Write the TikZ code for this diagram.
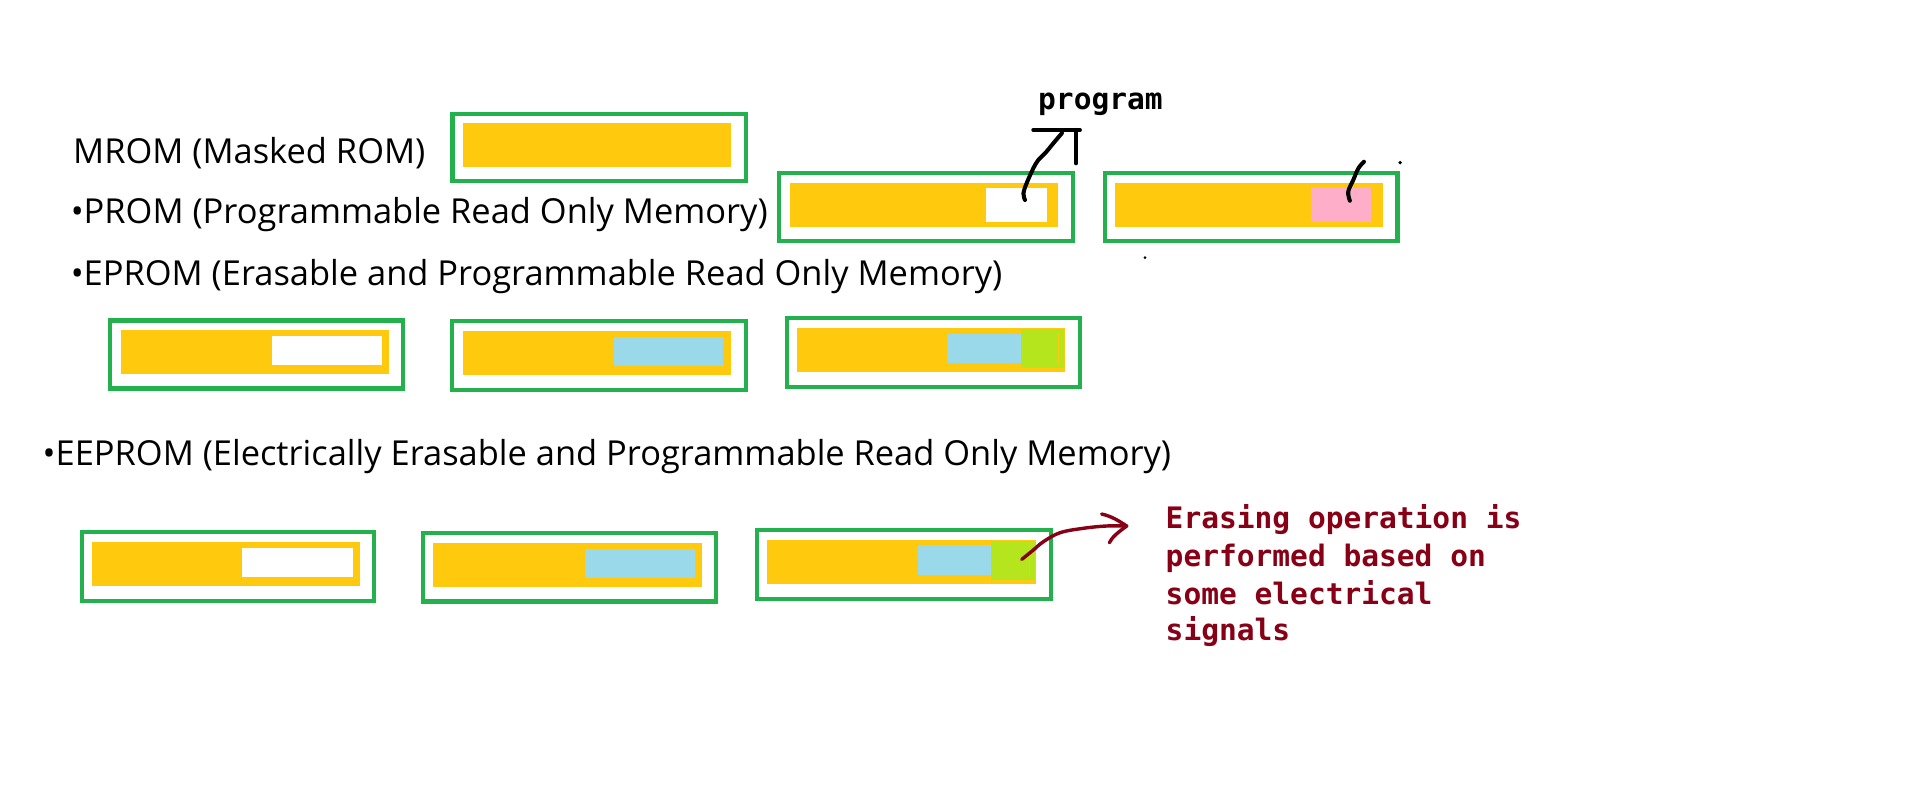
\documentclass[tikz,border=0pt]{standalone}
\usepackage{fontspec}
\setmainfont{Open Sans}
\newfontfamily\codefont{DejaVu Sans Mono}
\definecolor{pyellow}{HTML}{FFC90E}
\definecolor{pgreen}{HTML}{22B14C}
\definecolor{pblue}{HTML}{99D9EA}
\definecolor{ppink}{HTML}{FFAEC9}
\definecolor{plime}{HTML}{B5E61D}
\definecolor{pdred}{HTML}{880015}
\tikzset{
  gbox/.style={draw=pgreen, line width=1.7pt, fill=white, inner sep=0pt, outer sep=0pt},
  cellbox/.style={inner sep=0pt, outer sep=0pt, draw=none},
  label/.style={inner sep=0pt, outer sep=0pt, anchor=base west, font=\fontsize{14.1}{17}\selectfont},
  codelbl/.style={inner sep=0pt, outer sep=0pt, anchor=base west, font=\codefont\bfseries\fontsize{12.1}{15}\selectfont},
  hand/.style={line width=1.65pt, line cap=round, line join=round},
  redhand/.style={line width=1.4pt, line cap=round, line join=round, draw=pdred},
  seam/.style={draw=pyellow, line width=0.4pt},
}
% outer green frame: name, x1, y1, x2, y2 (outer edges)
\newcommand\chipframe[5]{\node[gbox, minimum width={(#4-#2-3.4)*0.5pt}, minimum height={(#5-#3-3.4)*0.5pt}] (#1) at ({(#2+#4)/2},{(#3+#5)/2}) {};}
% filled cell: name, x1, y1, x2, y2, colour
\newcommand\chipcell[6]{\node[cellbox, fill=#6, minimum width={(#4-#2)*0.5pt}, minimum height={(#5-#3)*0.5pt}] (#1) at ({(#2+#4)/2},{(#3+#5)/2}) {};}
\begin{document}
\begin{tikzpicture}[x=0.5pt,y=-0.5pt]
\useasboundingbox (0,0) rectangle (1568,660);
\fill[white] (0,0) rectangle (1568,660);

% texts
\node[label] (tmrom) at (60,134) {MROM (Masked ROM)};
\node[label] (tprom) at (58,183) {•PROM (Programmable Read Only Memory)};
\node[label] (teprom) at (58,233.5) {•EPROM (Erasable and Programmable Read Only Memory)};
\node[label] (teeprom) at (35,381) {•EEPROM (Electrically Erasable and Programmable Read Only Memory)};
\node[codelbl] (tprog) at (850.5,90) {program};
\node[codelbl, text=pdred] (r1) at (955,433) {Erasing operation is};
\node[codelbl, text=pdred] (r2) at (955,464) {performed based on};
\node[codelbl, text=pdred] (r3) at (955,495) {some electrical};
\node[codelbl, text=pdred] (r4) at (955,525) {signals};

% MROM
\chipframe{m}{369}{91.5}{612.5}{150}
\chipcell{my}{379.5}{100.5}{598.7}{136.5}{pyellow}

% PROM
\chipframe{p1}{636.5}{140}{880.6}{199}
\chipcell{p1y}{646.8}{149.6}{866.7}{185.7}{pyellow}
\chipcell{p1w}{807.7}{153.7}{857.7}{181.6}{white}
\chipframe{p2}{903.6}{140}{1146.6}{199.3}
\chipcell{p2y}{913.2}{149.6}{1132.9}{185.7}{pyellow}
\chipcell{p2p}{1074.2}{153.7}{1123.5}{181.6}{ppink}

% EPROM
\chipframe{e1}{88.5}{260.8}{332}{320}
\chipcell{e1y}{99.1}{270.3}{318.7}{306.4}{pyellow}
\chipcell{e1w}{222.8}{275.3}{313}{299}{white}
\chipframe{e2}{368.8}{261.6}{612.9}{321.1}
\chipcell{e2y}{379.5}{271.2}{599.1}{307.2}{pyellow}
\chipcell{e2b}{503.2}{276}{592.7}{299.8}{pblue}
\chipframe{e3}{642.7}{258.9}{886.4}{318.7}
\chipcell{e3y}{652.9}{268.7}{872.5}{304.7}{pyellow}
\chipcell{e3b}{776}{273.4}{836.2}{297.4}{pblue}
\chipcell{e3g}{836.2}{269.3}{871.4}{301.2}{plime}
\draw[seam] (867.1,272.8) -- (867.1,297.4);

% EEPROM
\chipframe{ee1}{65.3}{434.2}{307.9}{493.7}
\chipcell{ee1y}{75.4}{444}{294.7}{479.8}{pyellow}
\chipcell{ee1w}{198.2}{448.7}{289.1}{472.4}{white}
\chipframe{ee2}{344.9}{435}{588}{494.5}
\chipcell{ee2y}{354.9}{444.8}{574.9}{480.6}{pyellow}
\chipcell{ee2b}{479}{449.5}{569.3}{473.2}{pblue}
\chipframe{ee3}{618.2}{432.8}{862.5}{492.3}
\chipcell{ee3y}{628.2}{442.1}{848.7}{478.2}{pyellow}
\chipcell{ee3b}{752.3}{446.7}{811.8}{471}{pblue}
\chipcell{ee3g}{811.8}{442.9}{847.5}{475.2}{plime}
\draw[seam] (843.2,444.8) -- (843.2,471);

% hand-drawn "program" arrow
\coordinate (pstart) at ([xshift=3.5pt,yshift=1.93pt]p1w.center);
\coordinate (progtip) at (870,109);
\coordinate (barL) at (846.5,106.5);
\coordinate (barR) at (884.7,106.5);
\coordinate (stemT) at (881.5,106.5);
\coordinate (stemB) at (881.5,133.8);
\draw[hand] plot[smooth, tension=0.6] coordinates {(pstart) (838.4,158.4) (841,150.2) (846.5,137.9) (850.6,131.1) (856.1,125.6) (862.9,117.4) (progtip)};
\draw[hand] (barL) -- (barR);
\draw[hand] (stemT) -- (stemB);

% stroke on pink cell
\coordinate (pkstart) at ([xshift=3.5pt,yshift=1.6pt]p2p.center);
\coordinate (pinktop) at (1117.4,132.5);
\draw[hand] plot[smooth, tension=0.6] coordinates {(pkstart) (1104.5,157) (1108.6,147.5) (1112.8,137.9) (pinktop)};
\coordinate (dotA) at (1147,133.2);
\coordinate (dotB) at (938,211);
\fill (dotA) circle (0.8pt);
\fill (dotB) circle (0.6pt);

% electrical erase arrow
\coordinate (estart) at ([xshift=3.7pt,yshift=0.4pt]ee3g.center);
\coordinate (etip) at (923,430.9);
\coordinate (ebarbU) at (902.5,421.1);
\coordinate (ebarbL) at (908.8,444.6);
\draw[redhand] plot[smooth, tension=0.6] coordinates {(estart) (846.5,450.6) (854.7,443.8) (868.4,436.4) (887.4,432.8) (906.6,430.9) (etip)};
\draw[redhand] (ebarbU) .. controls (911,423) and (917,427) .. (etip) .. controls (916,436) and (911,440) .. (ebarbL);
\end{tikzpicture}
\end{document}
